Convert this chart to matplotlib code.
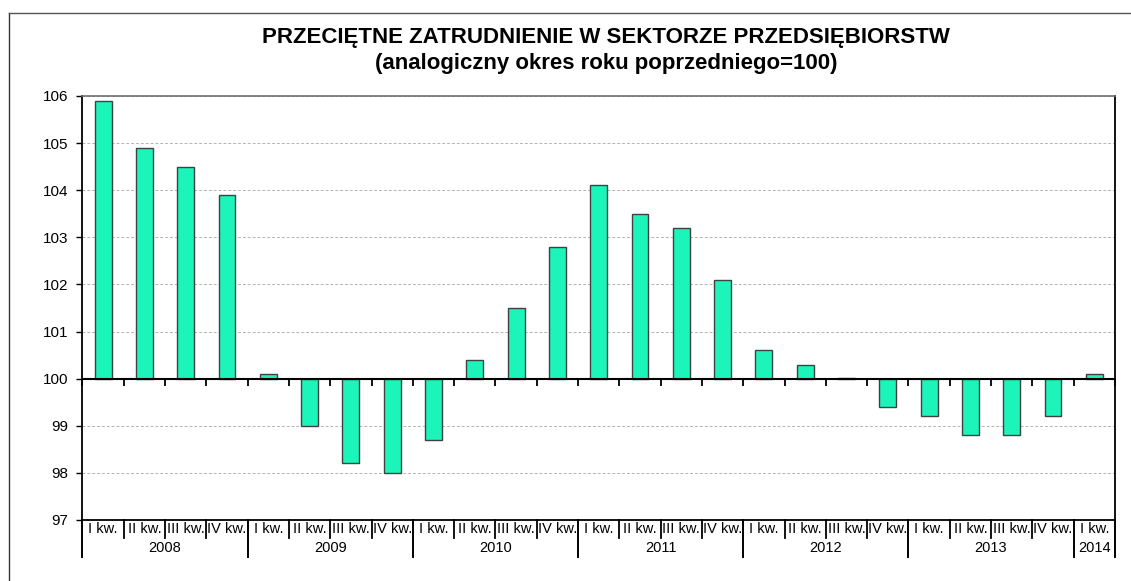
import matplotlib
matplotlib.use("Agg")
import matplotlib.pyplot as plt
from matplotlib.lines import Line2D
import matplotlib.transforms as mtransforms
import numpy as np

plt.rcParams['font.family'] = ['Liberation Sans', 'DejaVu Sans']

years = ['2008', '2009', '2010', '2011', '2012', '2013', '2014']
quarters_per_year = [4, 4, 4, 4, 4, 4, 1]
quarter_names = ['I kw.', 'II kw.', 'III kw.', 'IV kw.']
values = [105.9, 104.9, 104.5, 103.9,
          100.1, 99.0, 98.2, 98.0,
          98.7, 100.4, 101.5, 102.8,
          104.1, 103.5, 103.2, 102.1,
          100.6, 100.3, 100.02, 99.4,
          99.2, 98.8, 98.8, 99.2,
          100.1]
base = 100

fig = plt.figure(figsize=(11.31, 5.81), dpi=100)
ax = fig.add_axes([0.0729, 0.105, 0.9129, 0.7298])

x = np.arange(len(values))
v = np.array(values)
ax.bar(x, v - base, bottom=base, width=0.41, color='#1CF5BA',
       edgecolor='#404040', linewidth=1.0, zorder=3)

ax.set_xlim(-0.5, len(values) - 0.5)
ax.set_ylim(97, 106)
ax.set_yticks(range(97, 107))
ax.tick_params(axis='y', labelsize=11, length=4, width=1.0, direction='out', pad=6)
ax.set_xticks([])
ax.yaxis.grid(True, linestyle=(0, (3, 2)), color='#b4b4b4', linewidth=0.7)
ax.set_axisbelow(True)
for s in ['left', 'right', 'bottom']:
    ax.spines[s].set_color('black')
    ax.spines[s].set_linewidth(1.3)
ax.spines['top'].set_color('#707070')
ax.spines['top'].set_linewidth(1.2)

# baseline at 100 with boundary ticks
ax.axhline(base, color='black', linewidth=1.5, zorder=5)
sec = ax.secondary_xaxis((base - 97) / (106 - 97))
sec.set_xticks(np.arange(-0.5, len(values), 1.0))
sec.tick_params(axis='x', length=5, width=1.3, direction='out', labelbottom=False)
sec.spines['bottom'].set_visible(False)

# category labels below the axis
trans = mtransforms.blended_transform_factory(ax.transData, ax.transAxes)
pos = 0
for yr, n in zip(years, quarters_per_year):
    for q in range(n):
        ax.text(pos + q, -0.022, quarter_names[q], transform=trans,
                ha='center', va='center', fontsize=10.5)
        if q > 0:
            ax.plot([pos + q - 0.5] * 2, [0, -0.0425], transform=trans,
                    color='black', lw=1.3, clip_on=False)
    ax.plot([pos - 0.5] * 2, [0, -0.087], transform=trans,
            color='black', lw=1.4, clip_on=False)
    ax.text(pos + (n - 1) / 2, -0.067, yr, transform=trans,
            ha='center', va='center', fontsize=10.5)
    pos += n
ax.plot([pos - 0.5] * 2, [0, -0.087], transform=trans,
        color='black', lw=1.4, clip_on=False)

fig.text(0.536, 0.936, 'PRZECIĘTNE ZATRUDNIENIE W SEKTORZE PRZEDSIĘBIORSTW',
         ha='center', va='center', fontsize=16, fontweight='bold')
fig.text(0.536, 0.891, '(analogiczny okres roku poprzedniego=100)',
         ha='center', va='center', fontsize=16, fontweight='bold')

# outer chart border
fig.add_artist(Line2D([0.008, 0.008], [0, 0.978], color='#333333', lw=1.0))
fig.add_artist(Line2D([0.008, 1.0], [0.978, 0.978], color='#555555', lw=1.0))

fig.savefig('out.png', dpi=100)
